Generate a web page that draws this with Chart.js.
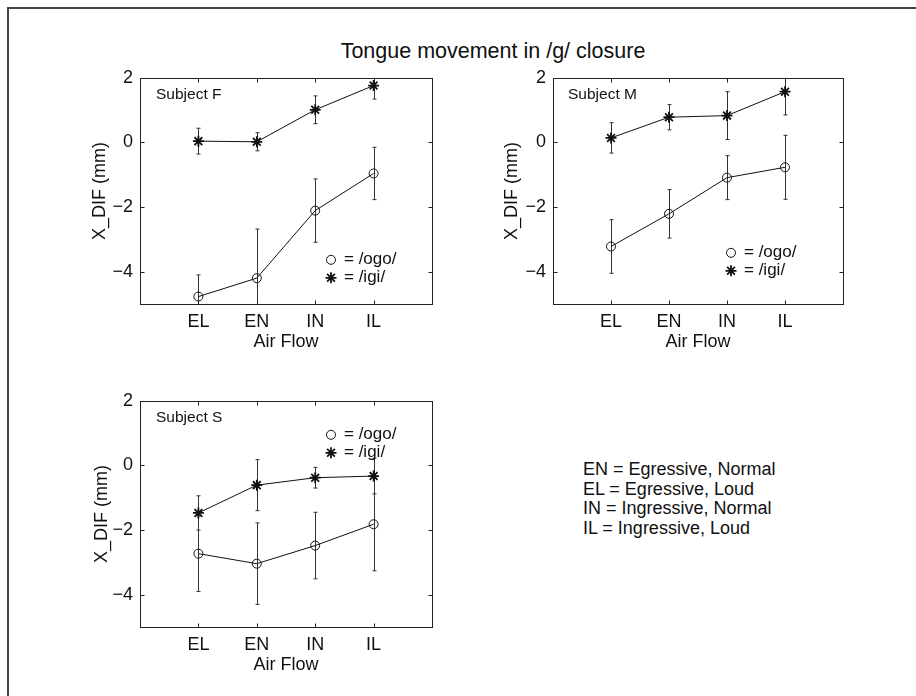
<!DOCTYPE html>
<html>
<head>
<meta charset="utf-8">
<script src="https://cdn.jsdelivr.net/npm/chart.js@4.4.1/dist/chart.umd.min.js"></script>
<style>
  body { margin: 0; background: #fff; }
  #page { position: relative; width: 916px; height: 696px; overflow: hidden;
          font-family: "Liberation Sans", Arial, Helvetica, sans-serif; color: #111; }
  #frame { position: absolute; left: 7px; top: 7px; width: 940px; height: 720px;
           border-left: 2px solid #444; border-top: 2px solid #444; }
  canvas { position: absolute; }
  #title { position: absolute; left: 493px; top: 39px; transform: translateX(-50%);
           font-size: 21.5px; white-space: nowrap; }
  #notes { position: absolute; left: 583px; top: 460px; font-size: 18px; line-height: 19.5px; white-space: nowrap; }
</style>
</head>
<body>
<div id="page">
  <div id="frame"></div>
  <div id="title">Tongue movement in /g/ closure</div>
  <canvas id="chart-f" width="420" height="300" style="left:40px;top:60px"></canvas>
  <canvas id="chart-m" width="420" height="300" style="left:453px;top:60px"></canvas>
  <canvas id="chart-s" width="420" height="300" style="left:40px;top:383px"></canvas>
  <div id="notes">
    <div>EN = Egressive, Normal</div>
    <div>EL = Egressive, Loud</div>
    <div>IN = Ingressive, Normal</div>
    <div>IL = Ingressive, Loud</div>
  </div>
</div>
<script>
// air flow conditions, plotted at x = 1..4
var airFlow = ["EL", "EN", "IN", "IL"];
var yTicks = [-4, -2, 0, 2];

// Subject F
var fOgo = [-4.77, -4.20, -2.11, -0.96];
var fOgoErr = [0.67, 1.52, 0.98, 0.81];
var fIgi = [0.04, 0.02, 1.01, 1.76];
var fIgiErr = [0.40, 0.28, 0.43, 0.42];

// Subject M
var mOgo = [-3.22, -2.21, -1.09, -0.77];
var mOgoErr = [0.83, 0.75, 0.68, 0.99];
var mIgi = [0.14, 0.78, 0.83, 1.57];
var mIgiErr = [0.47, 0.39, 0.74, 0.72];

// Subject S
var sOgo = [-2.73, -3.04, -2.48, -1.82];
var sOgoErr = [1.17, 1.26, 1.03, 1.44];
var sIgi = [-1.47, -0.61, -0.38, -0.33];
var sIgiErr = [0.53, 0.79, 0.32, 0.55];

var FONT = '"Liberation Sans", Arial, Helvetica, sans-serif';
var ogoStyle = { pointStyle: 'circle', radius: 4.5, borderWidth: 1, rotation: 0 };
var igiStyle = { pointStyle: 'star', radius: 5.5, borderWidth: 1.8, rotation: 0 };

function toPoints(values) {
    return values.map(function (v, i) { return { x: i + 1, y: v }; });
}

// frame, inward ticks, error bars, subject label and marker legend
var panelPlugin = {
    id: 'panel',
    beforeDatasetsDraw: function (chart) {
        var ctx = chart.ctx, a = chart.chartArea;
        var xs = chart.scales.x, ys = chart.scales.y;
        ctx.save();
        ctx.beginPath();
        ctx.rect(a.left, a.top, a.right - a.left, a.bottom - a.top);
        ctx.clip();
        ctx.strokeStyle = '#333';
        ctx.lineWidth = 1;
        chart.data.datasets.forEach(function (ds) {
            ds.data.forEach(function (p, i) {
                var e = ds.errors[i];
                var px = Math.round(xs.getPixelForValue(p.x)) + 0.5;
                var y1 = ys.getPixelForValue(p.y + e);
                var y2 = ys.getPixelForValue(p.y - e);
                ctx.beginPath();
                ctx.moveTo(px, y1); ctx.lineTo(px, y2);
                ctx.moveTo(px - 2, y1); ctx.lineTo(px + 2, y1);
                ctx.moveTo(px - 2, y2); ctx.lineTo(px + 2, y2);
                ctx.stroke();
            });
        });
        ctx.restore();
    },
    afterDatasetsDraw: function (chart, args, opts) {
        var ctx = chart.ctx, a = chart.chartArea;
        var xs = chart.scales.x, ys = chart.scales.y;
        var L = Math.round(a.left) + 0.5, R = Math.round(a.right) + 0.5;
        var T = Math.round(a.top) + 0.5, B = Math.round(a.bottom) + 0.5;
        ctx.save();
        ctx.strokeStyle = '#222';
        ctx.lineWidth = 1;
        ctx.strokeRect(L, T, R - L, B - T);
        ctx.beginPath();
        [1, 2, 3, 4].forEach(function (v) {
            var px = Math.round(xs.getPixelForValue(v)) + 0.5;
            ctx.moveTo(px, B); ctx.lineTo(px, B - 4);
            ctx.moveTo(px, T); ctx.lineTo(px, T + 4);
        });
        yTicks.forEach(function (v) {
            var py = Math.round(ys.getPixelForValue(v)) + 0.5;
            ctx.moveTo(L, py); ctx.lineTo(L + 4, py);
            ctx.moveTo(R, py); ctx.lineTo(R - 4, py);
        });
        ctx.stroke();

        ctx.fillStyle = '#111';
        ctx.textBaseline = 'middle';
        ctx.textAlign = 'left';
        ctx.font = '15.5px ' + FONT;
        ctx.fillText(opts.subject, a.left + opts.labelPos[0], a.top + opts.labelPos[1]);

        var lx = a.left + opts.legendPos[0], ly = a.top + opts.legendPos[1];
        ctx.strokeStyle = '#111';
        ctx.fillStyle = 'rgba(0,0,0,0)';
        ctx.lineWidth = ogoStyle.borderWidth;
        Chart.helpers.drawPoint(ctx, ogoStyle, lx, ly);
        ctx.lineWidth = igiStyle.borderWidth;
        Chart.helpers.drawPoint(ctx, igiStyle, lx, ly + 18);
        ctx.fillStyle = '#111';
        ctx.font = '17px ' + FONT;
        ctx.fillText('= /ogo/', lx + 13, ly);
        ctx.fillText('= /igi/', lx + 13, ly + 18);
        ctx.restore();
    }
};

function makePanel(id, ogo, ogoErr, igi, igiErr, opts) {
    return new Chart(document.getElementById(id), {
        type: 'line',
        data: {
            datasets: [{
                label: '/ogo/',
                data: toPoints(ogo),
                errors: ogoErr,
                borderColor: '#111',
                borderWidth: 1,
                pointStyle: 'circle',
                pointRadius: 4.5,
                pointBorderWidth: 1,
                pointBorderColor: '#111',
                pointBackgroundColor: 'rgba(0,0,0,0)',
                tension: 0
            }, {
                label: '/igi/',
                data: toPoints(igi),
                errors: igiErr,
                borderColor: '#111',
                borderWidth: 1,
                pointStyle: 'star',
                pointRadius: 5.5,
                pointBorderWidth: 1.8,
                pointBorderColor: '#111',
                pointBackgroundColor: '#111',
                tension: 0
            }]
        },
        options: {
            responsive: false,
            animation: false,
            events: [],
            layout: { autoPadding: false, padding: { left: 0, right: opts.padRight, top: 13, bottom: 0 } },
            plugins: {
                legend: { display: false },
                tooltip: { enabled: false },
                panel: opts
            },
            scales: {
                x: {
                    type: 'linear',
                    min: 0,
                    max: 5,
                    afterBuildTicks: function (scale) {
                        scale.ticks = [1, 2, 3, 4].map(function (v) { return { value: v }; });
                    },
                    afterFit: function (scale) { scale.height = 56; },
                    grid: { display: false, drawTicks: false },
                    border: { display: false },
                    ticks: {
                        padding: 7,
                        color: '#111',
                        font: { family: FONT, size: 18 },
                        callback: function (v) { return airFlow[v - 1]; }
                    },
                    title: {
                        display: true,
                        text: 'Air Flow',
                        color: '#111',
                        font: { family: FONT, size: 18 },
                        padding: { top: 0, bottom: 7 }
                    }
                },
                y: {
                    min: -5,
                    max: 2,
                    afterBuildTicks: function (scale) {
                        scale.ticks = yTicks.map(function (v) { return { value: v }; });
                    },
                    afterFit: function (scale) { scale.width = 100; },
                    grid: { display: false, drawTicks: false },
                    border: { display: false },
                    ticks: {
                        padding: 7,
                        color: '#111',
                        font: { family: FONT, size: 18 },
                        callback: function (v) { return v < 0 ? '\u2212' + Math.abs(v) : String(v); }
                    },
                    title: {
                        display: true,
                        text: 'X_DIF (mm)',
                        color: '#111',
                        font: { family: FONT, size: 18 },
                        padding: { top: opts.titlePad, bottom: 0 }
                    }
                }
            }
        },
        plugins: [panelPlugin]
    });
}

makePanel('chart-f', fOgo, fOgoErr, fIgi, fIgiErr,
    { subject: 'Subject F', labelPos: [16, 17], legendPos: [191, 182], padRight: 28, titlePad: 49 });
makePanel('chart-m', mOgo, mOgoErr, mIgi, mIgiErr,
    { subject: 'Subject M', labelPos: [15, 17], legendPos: [178, 175], padRight: 30, titlePad: 48 });
makePanel('chart-s', sOgo, sOgoErr, sIgi, sIgiErr,
    { subject: 'Subject S', labelPos: [16, 17], legendPos: [191, 34], padRight: 28, titlePad: 51 });
</script>
</body>
</html>
